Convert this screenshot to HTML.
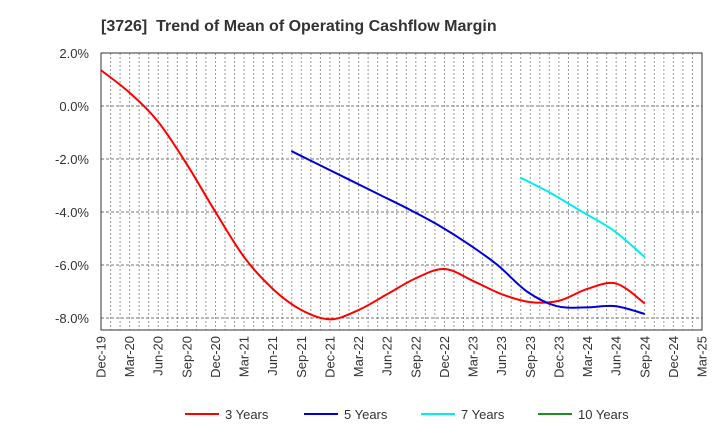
<!DOCTYPE html>
<html><head><meta charset="utf-8"><style>
body{margin:0;background:#fff;font-family:"Liberation Sans",Arial,sans-serif}
</style></head><body>
<svg id="c" width="720" height="440" xmlns="http://www.w3.org/2000/svg">
<text x="101" y="31" font-size="16" font-weight="bold" fill="#333" xml:space="preserve">[3726]  Trend of Mean of Operating Cashflow Margin</text>
<g id="grid"></g><g id="axes"></g><g id="series"></g><g id="legend"></g>
</svg>
<script>
const xLabels=["Dec-19","Mar-20","Jun-20","Sep-20","Dec-20","Mar-21","Jun-21","Sep-21","Dec-21","Mar-22","Jun-22","Sep-22","Dec-22","Mar-23","Jun-23","Sep-23","Dec-23","Mar-24","Jun-24","Sep-24","Dec-24","Mar-25"];
const yTicks=[2,0,-2,-4,-6,-8];
const s3=[1.35,0.5,-0.6,-2.2,-4.0,-5.7,-6.9,-7.7,-8.05,-7.7,-7.1,-6.5,-6.15,-6.6,-7.1,-7.4,-7.35,-6.9,-6.7,-7.45];
const s5=[-1.7,-2.25,-2.8,-3.35,-3.9,-4.5,-5.2,-6.0,-7.0,-7.55,-7.6,-7.55,-7.85];
const s7=[-2.7,-3.3,-4.0,-4.7,-5.7];
const s10=[];
const starts=[0,6.65,14.65,0];
const L=101,R=702,T=53,B=330;
const X=i=>L+i*(R-L)/21;
const Y=v=>T+(2-v)*26.5;
const NS="http://www.w3.org/2000/svg";
function el(p,t,a){const e=document.createElementNS(NS,t);for(const k in a)e.setAttribute(k,a[k]);p.appendChild(e);return e;}
const grid=document.getElementById('grid'),axes=document.getElementById('axes'),ser=document.getElementById('series'),leg=document.getElementById('legend');
for(let m=1;m<63;m++){const x=L+m*(R-L)/63;const g=el(grid,'line',{x1:x,x2:x,y1:T,y2:B,stroke:'#999','stroke-dasharray':'2,2','stroke-width':1});

}
yTicks.forEach(v=>{const g=el(grid,'line',{x1:L,x2:R,y1:Y(v),y2:Y(v),stroke:'#777','stroke-dasharray':'3,2'});


const t=el(axes,'text',{x:89,y:Y(v)+5,'text-anchor':'end','font-size':13,fill:'#333'});t.textContent=v.toFixed(1)+'%';

});
const fr=el(axes,'rect',{x:L,y:T,width:R-L,height:B-T,fill:'none',stroke:'#333'});


xLabels.forEach((s,i)=>{const x=X(i);const t=el(axes,'text',{transform:`translate(${x+4.5},${B+6}) rotate(-90)`,'text-anchor':'end','font-size':13,fill:'#333'});t.textContent=s;

});
function path(pts){let d=`M${pts[0][0]},${pts[0][1]}`;for(let i=0;i<pts.length-1;i++){const p0=pts[i-1]||pts[i],p1=pts[i],p2=pts[i+1],p3=pts[i+2]||p2;
d+=` C${p1[0]+(p2[0]-p0[0])/6},${p1[1]+(p2[1]-p0[1])/6} ${p2[0]-(p3[0]-p1[0])/6},${p2[1]-(p3[1]-p1[1])/6} ${p2[0]},${p2[1]}`;}return d;}
const series=[[s3,'#ff0000','3 Years','series-3-years'],[s5,'#0000dd','5 Years','series-5-years'],[s7,'#00eeee','7 Years','series-7-years'],[s10,'#228b22','10 Years','series-10-years']];
series.forEach(([d,c,n,nm],k)=>{if(d.length>1){const st=starts[k],en=19,step=(en-st)/(d.length-1);
const p=el(ser,'path',{d:path(d.map((v,i)=>[X(st+i*step),Y(v)])),fill:'none',stroke:c,'stroke-width':2});

}
const lx=[185,304,421,538][k];
const g=el(leg,'g',{});


el(g,'line',{x1:lx,x2:lx+34,y1:414,y2:414,stroke:c,'stroke-width':2});
const t=el(g,'text',{x:lx+40,y:419,'font-size':13,fill:'#333'});t.textContent=n;});
</script>
</body></html>
